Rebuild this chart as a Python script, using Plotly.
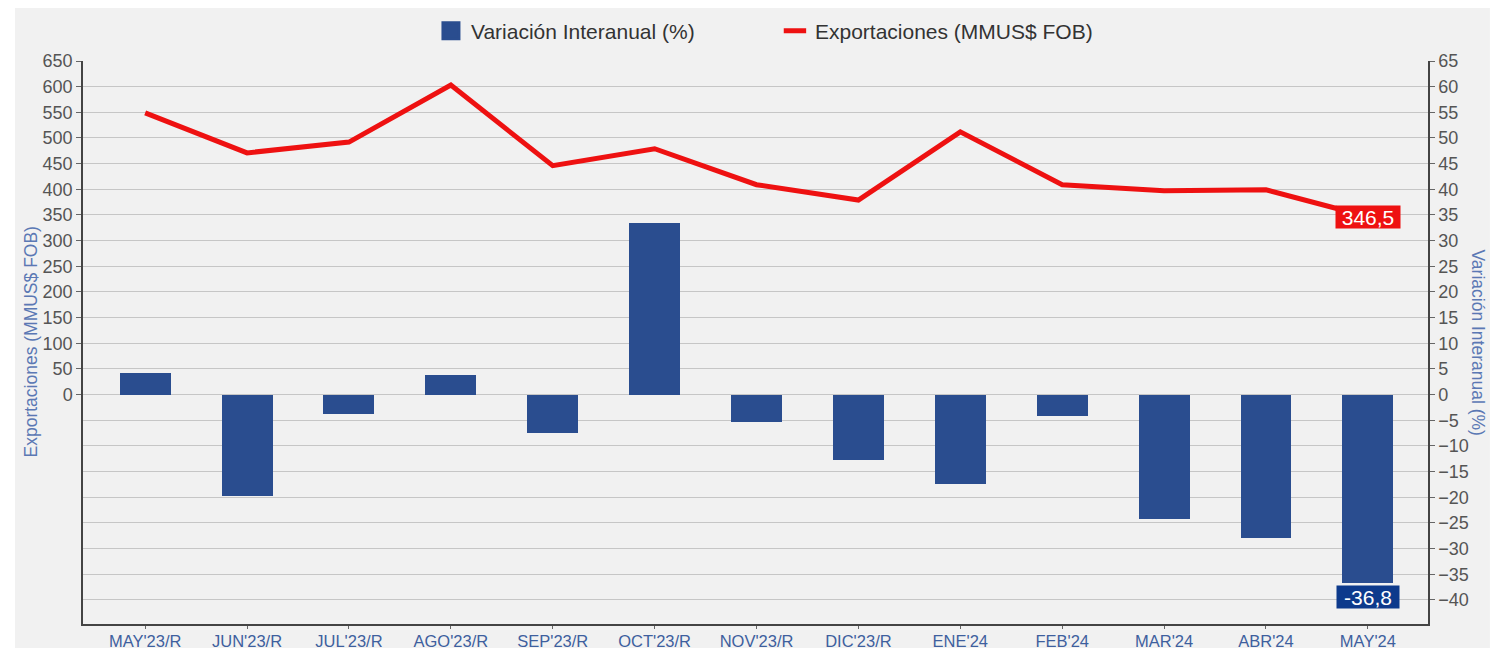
import plotly.graph_objects as go

categories = ["MAY'23/R", "JUN'23/R", "JUL'23/R", "AGO'23/R", "SEP'23/R", "OCT'23/R",
              "NOV'23/R", "DIC'23/R", "ENE'24", "FEB'24", "MAR'24", "ABR'24", "MAY'24"]
exportaciones = [549, 471, 492, 603, 446, 479, 409, 379, 512, 409, 397, 399, 346.5]
variacion = [4.3, -19.8, -3.7, 3.9, -7.4, 33.5, -5.3, -12.8, -17.5, -4.1, -24.3, -28.0, -36.8]

left_ticks = list(range(0, 651, 50))
right_ticks = list(range(-40, 66, 5))

BAR = "#2a4d8f"
RED = "#ee1111"
FONT = "Liberation Sans, Arial, sans-serif"

fig = go.Figure()
fig.add_trace(go.Bar(
    x=categories, y=variacion, name="Variación Interanual (%)",
    marker=dict(color=BAR, line=dict(width=0)), width=0.5, yaxis="y2", showlegend=False,
))
fig.add_trace(go.Scatter(
    x=categories, y=exportaciones, name="Exportaciones (MMUS$ FOB)",
    mode="lines", line=dict(color=RED, width=5), yaxis="y", showlegend=False,
))
# legend entries (larger legend symbols)
fig.add_trace(go.Scatter(
    x=[None], y=[None], name="Variación Interanual (%)", mode="markers",
    marker=dict(symbol="square", size=16, color=BAR, line=dict(color=BAR, width=3)),
    showlegend=True,
))
fig.add_trace(go.Scatter(
    x=[None], y=[None], name="Exportaciones (MMUS$ FOB)", mode="markers",
    marker=dict(symbol="line-ew", size=20, color=RED, line=dict(color=RED, width=6)),
    showlegend=True,
))

fig.add_annotation(x=categories[-1], y=exportaciones[-1], xref="x", yref="y",
                   text=f"{exportaciones[-1]:.1f}".replace(".", ","), showarrow=False,
                   bgcolor="#ee1111", font=dict(color="white", size=21, family=FONT),
                   width=64, height=22, borderpad=0)
fig.add_annotation(x=categories[-1], y=variacion[-1], xref="x", yref="y2",
                   text=f"{variacion[-1]:.1f}".replace(".", ","), showarrow=False,
                   yshift=-14, bgcolor="#0d3a8c", font=dict(color="white", size=21, family=FONT),
                   width=62, height=22, borderpad=0)

# axis titles
fig.add_annotation(x=-0.0394, y=0.5, xref="paper", yref="paper", xanchor="center",
                   yanchor="middle", text="Exportaciones (MMUS$ FOB)", textangle=-90,
                   showarrow=False, font=dict(color="#5b78b4", size=17.5, family=FONT))
fig.add_annotation(x=1.0372, y=0.5, xref="paper", yref="paper", xanchor="center",
                   yanchor="middle", text="Variación Interanual (%)", textangle=90,
                   showarrow=False, font=dict(color="#5b78b4", size=17.5, family=FONT))

# panel background
fig.add_shape(type="rect", xref="paper", yref="paper",
              x0=-0.0506, x1=1.046, y0=-0.045, y1=1.103, layer="below",
              fillcolor="#f1f1f1", line=dict(width=0))

fig.update_layout(
    width=1499, height=648,
    margin=dict(l=75, r=79, t=53, b=32, autoexpand=False),
    paper_bgcolor="white", plot_bgcolor="#f1f1f1",
    font=dict(family=FONT, color="#555555"),
    showlegend=True,
    legend=dict(orientation="h", x=0.2587, xanchor="left", y=1.053, yanchor="middle",
                font=dict(size=21, color="#333333", family=FONT), bgcolor="rgba(0,0,0,0)",
                entrywidth=299, itemwidth=30),
    bargap=0,
    xaxis=dict(range=[-0.61, 12.59], showgrid=False, showline=True, linecolor="#444444",
               linewidth=1.5, ticks="outside", ticklen=3, tickcolor="#666666",
               tickfont=dict(size=16.5, color="#3e5f9e", family=FONT), zeroline=False,
               automargin=False, ticklabelstandoff=-2),
    yaxis=dict(range=[-447, 650], tickvals=left_ticks, showgrid=False, showline=True,
               linecolor="#444444", linewidth=1.5, ticks="outside", ticklen=5,
               tickcolor="#666666", tickfont=dict(size=18, color="#555555", family=FONT),
               zeroline=False, automargin=False),
    yaxis2=dict(range=[-44.7, 65], tickvals=right_ticks, overlaying="y", side="right",
                showgrid=True, gridcolor="#c6c6c6", gridwidth=1, showline=True,
                linecolor="#444444", linewidth=1.5, ticks="outside", ticklen=5,
                tickcolor="#666666", tickfont=dict(size=18, color="#555555", family=FONT),
                zeroline=False, automargin=False),
)

fig.write_html("out.html")
